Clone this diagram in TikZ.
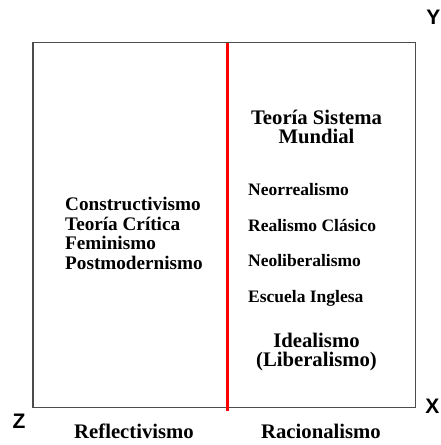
\documentclass[tikz,border=0pt]{standalone}
\usepackage{fontspec}
\setmainfont{Liberation Serif}
\newfontfamily\axisfont{Liberation Sans}
\begin{document}
\begin{tikzpicture}[x=1pt,y=-1pt,inner sep=0pt,big/.style={anchor=base,font=\fontsize{20.7}{19}\selectfont\bfseries},mid/.style={anchor=base west,font=\fontsize{19.2}{19}\selectfont\bfseries},small/.style={anchor=base west,font=\fontsize{17.5}{17}\selectfont\bfseries},axis/.style={font=\fontsize{21}{21}\selectfont\axisfont\bfseries}]
\useasboundingbox (0,0) rectangle (441,445);
\path[draw=black!70,line width=1.4pt] (33,42.7) rectangle (415.5,407.3);
\path[draw=red,line width=3.5pt] (227.3,42.7) -- (227.3,410.5);
\node[big] (system-0) at (316.5,124) {Teoría Sistema};
\node[big] (system-1) at (316.5,143.5) {Mundial};
\node[mid] (reflect-0) at (65,210.5) {Constructivismo};
\node[mid] (reflect-1) at (65,230) {Teoría Crítica};
\node[mid] (reflect-2) at (65,249.5) {Feminismo};
\node[mid] (reflect-3) at (65,269) {Postmodernismo};
\node[small] (ration-0) at (248,195.5) {Neorrealismo};
\node[small] (ration-1) at (248,231) {Realismo Clásico};
\node[small] (ration-2) at (248,266.5) {Neoliberalismo};
\node[small] (ration-3) at (248,302) {Escuela Inglesa};
\node[big] (ideal-0) at (316.5,347) {Idealismo};
\node[big] (ideal-1) at (316.5,366.5) {(Liberalismo)};
\node[big] (bottom-0) at (134,438.5) {Reflectivismo};
\node[big] (bottom-1) at (321,438.5) {Racionalismo};
\node[axis] (axis-y) at (433.5,17.5) {Y};
\node[axis] (axis-x) at (432.5,406.5) {X};
\node[axis] (axis-z) at (19,421) {Z};
\end{tikzpicture}
\end{document}
